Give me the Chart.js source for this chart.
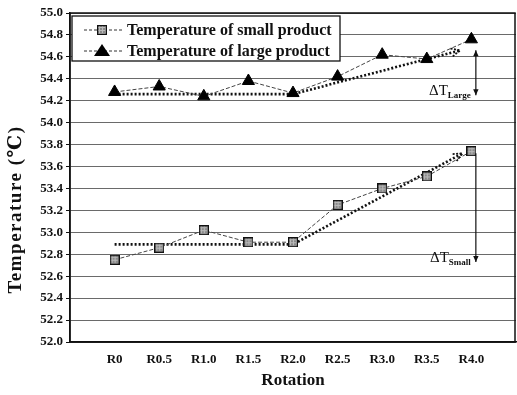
<!DOCTYPE html>
<html>
<head>
<meta charset="utf-8">
<script src="https://cdn.jsdelivr.net/npm/chart.js@4"></script>
<style>
  html, body { margin: 0; padding: 0; background: #fff; }
  #wrap { width: 517px; height: 395px; }
</style>
</head>
<body>
<div id="wrap"><canvas id="chart"></canvas></div>
<script>
// 数据
const rotations = ['R0', 'R0.5', 'R1.0', 'R1.5', 'R2.0', 'R2.5', 'R3.0', 'R3.5', 'R4.0'];
const smallTemp = [52.75, 52.86, 53.02, 52.91, 52.91, 53.25, 53.40, 53.51, 53.74];
const largeTemp = [54.28, 54.33, 54.24, 54.38, 54.27, 54.42, 54.62, 54.58, 54.76];
// 趋势线（点线）：[x 索引, 温度]
const smallTrend = [[0, 52.89], [4, 52.89], [7.8, 53.72]];
const largeTrend = [[0, 54.26], [4, 54.26], [7.75, 54.66]];
// ΔT 标注：[x 索引, 上端温度, 下端温度]
const deltaLarge = [8.1, 54.66, 54.25];
const deltaSmall = [8.1, 53.72, 52.73];
const yTitle = 'Temperature (\u2103)';

const SERIF = '"Liberation Serif", "DejaVu Serif", serif';

function toPoints(arr) {
  return arr.map((v, i) => ({ x: i, y: v }));
}
function trendPoints(arr) {
  return arr.map(p => ({ x: p[0], y: p[1] }));
}

// 灰色网格填充的方块标记
function makeSquare() {
  const c = document.createElement('canvas');
  c.width = 10; c.height = 10;
  const g = c.getContext('2d');
  g.fillStyle = '#8a8a8a';
  g.fillRect(0, 0, 10, 10);
  g.strokeStyle = '#bbb';
  g.lineWidth = 1;
  for (let i = 2; i < 10; i += 3) {
    g.beginPath(); g.moveTo(i + 0.5, 1); g.lineTo(i + 0.5, 9); g.stroke();
    g.beginPath(); g.moveTo(1, i + 0.5); g.lineTo(9, i + 0.5); g.stroke();
  }
  g.strokeStyle = '#111';
  g.lineWidth = 1.3;
  g.strokeRect(0.6, 0.6, 8.8, 8.8);
  return c;
}
const squareImg = makeSquare();

// 画箭头头部
function arrowHead(ctx, x, y, ang, size, open) {
  ctx.save();
  ctx.translate(x, y);
  ctx.rotate(ang);
  ctx.beginPath();
  ctx.moveTo(-size, -size * 0.45);
  ctx.lineTo(0, 0);
  ctx.lineTo(-size, size * 0.45);
  if (open) {
    ctx.stroke();
  } else {
    ctx.closePath();
    ctx.fill();
  }
  ctx.restore();
}

const decorPlugin = {
  id: 'decor',
  afterDraw(chart) {
    const ctx = chart.ctx;
    const xs = chart.scales.x, ys = chart.scales.y;
    const area = chart.chartArea;
    ctx.save();

    // 外框
    ctx.strokeStyle = '#111';
    ctx.lineWidth = 1.5;
    ctx.setLineDash([]);
    ctx.strokeRect(area.left, area.top, area.right - area.left - 1, area.bottom - area.top);

    // 纵轴标题（比图区中心略低）
    ctx.save();
    ctx.translate(16, (area.top + area.bottom) / 2 + 32);
    ctx.rotate(-Math.PI / 2);
    ctx.fillStyle = '#111';
    ctx.font = 'bold 19px ' + SERIF;
    ctx.letterSpacing = '1.5px';
    ctx.textAlign = 'center';
    ctx.textBaseline = 'middle';
    ctx.fillText(yTitle, 0, 0);
    ctx.restore();

    // 趋势线末端箭头
    ctx.lineWidth = 1.8;
    ctx.strokeStyle = '#111';
    [smallTrend, largeTrend].forEach(t => {
      const a = t[t.length - 2], b = t[t.length - 1];
      const x1 = xs.getPixelForValue(a[0]), y1 = ys.getPixelForValue(a[1]);
      const x2 = xs.getPixelForValue(b[0]), y2 = ys.getPixelForValue(b[1]);
      ctx.setLineDash([2, 1.5]);
      arrowHead(ctx, x2, y2, Math.atan2(y2 - y1, x2 - x1), 9, true);
    });
    ctx.setLineDash([]);

    // ΔT 双向箭头
    ctx.fillStyle = '#111';
    ctx.lineWidth = 1.2;
    [[deltaLarge, 'Large', 'both'], [deltaSmall, 'Small', 'down']].forEach(d => {
      const v = d[0];
      const x = xs.getPixelForValue(v[0]);
      const yt = ys.getPixelForValue(v[1]);
      const yb = ys.getPixelForValue(v[2]);
      ctx.beginPath(); ctx.moveTo(x, yt); ctx.lineTo(x, yb); ctx.stroke();
      arrowHead(ctx, x, yb, Math.PI / 2, 6, false);
      if (d[2] === 'both') arrowHead(ctx, x, yt, -Math.PI / 2, 6, false);
      // 文本 ΔT + 下标
      ctx.font = 'bold 9px ' + SERIF;
      const subW = ctx.measureText(d[1]).width;
      ctx.textAlign = 'left';
      ctx.textBaseline = 'alphabetic';
      const subX = x - 5 - subW;
      ctx.fillText(d[1], subX, yb + 3);
      ctx.font = '15px ' + SERIF;
      ctx.textAlign = 'right';
      ctx.fillText('\u0394T', subX, yb);
    });

    // 图例框
    const lx = area.left + 2, ly = area.top + 3, lw = 268, lh = 45;
    ctx.fillStyle = '#fff';
    ctx.fillRect(lx, ly, lw, lh);
    ctx.strokeStyle = '#111';
    ctx.lineWidth = 1.3;
    ctx.strokeRect(lx, ly, lw, lh);
    const items = [
      { label: chart.data.datasets[0].label, marker: 'sq' },
      { label: chart.data.datasets[1].label, marker: 'tri' }
    ];
    items.forEach((it, i) => {
      const cy = ly + 14 + i * 21;
      ctx.strokeStyle = '#333';
      ctx.lineWidth = 1;
      ctx.setLineDash([3, 2]);
      ctx.beginPath(); ctx.moveTo(lx + 12, cy); ctx.lineTo(lx + 50, cy); ctx.stroke();
      ctx.setLineDash([]);
      const mx = lx + 30;
      if (it.marker === 'sq') {
        ctx.drawImage(squareImg, mx - 5, cy - 5);
      } else {
        ctx.fillStyle = '#000';
        ctx.beginPath();
        ctx.moveTo(mx, cy - 7); ctx.lineTo(mx + 8, cy + 5); ctx.lineTo(mx - 8, cy + 5);
        ctx.closePath(); ctx.fill();
      }
      ctx.fillStyle = '#111';
      ctx.font = 'bold 16px ' + SERIF;
      ctx.textAlign = 'left';
      ctx.textBaseline = 'middle';
      ctx.fillText(it.label, lx + 55, cy + 1);
    });
    ctx.restore();
  }
};

new Chart(document.getElementById('chart'), {
  type: 'line',
  data: {
    datasets: [
      {
        label: 'Temperature of small product',
        data: toPoints(smallTemp),
        borderColor: '#444',
        borderWidth: 1,
        borderDash: [4, 2],
        pointStyle: squareImg,
        pointRadius: 5,
        tension: 0,
        order: 1
      },
      {
        label: 'Temperature of large product',
        data: toPoints(largeTemp),
        borderColor: '#444',
        borderWidth: 1,
        borderDash: [4, 2],
        pointStyle: 'triangle',
        pointRadius: 7,
        pointBackgroundColor: '#000',
        pointBorderColor: '#000',
        pointBorderWidth: 1,
        tension: 0,
        order: 1
      },
      {
        label: 'trend small',
        data: trendPoints(smallTrend),
        borderColor: '#111',
        borderWidth: 2.6,
        borderDash: [2, 2],
        pointRadius: 0,
        tension: 0,
        order: 2
      },
      {
        label: 'trend large',
        data: trendPoints(largeTrend),
        borderColor: '#111',
        borderWidth: 2.6,
        borderDash: [2, 2],
        pointRadius: 0,
        tension: 0,
        order: 2
      }
    ]
  },
  options: {
    responsive: true,
    maintainAspectRatio: false,
    animation: false,
    layout: { autoPadding: false, padding: { top: 13, right: 1, left: 0, bottom: 0 } },
    plugins: {
      legend: { display: false },
      tooltip: { enabled: false }
    },
    scales: {
      x: {
        type: 'linear',
        min: -1,
        max: 9,
        afterFit(scale) {
          scale.height = 53;
          scale.paddingLeft = 0;
          scale.paddingRight = 0;
        },
        ticks: {
          stepSize: 1,
          color: '#111',
          font: { family: SERIF, size: 13, weight: 'bold' },
          padding: 2,
          callback: v => rotations[v] || ''
        },
        grid: { display: false, drawTicks: true },
        border: { color: '#111', width: 1.5 },
        title: {
          display: true,
          text: 'Rotation',
          color: '#111',
          font: { family: SERIF, size: 17, weight: 'bold' },
          padding: { top: 8 }
        }
      },
      y: {
        min: 52.0,
        max: 55.0,
        afterFit(scale) {
          scale.width = 70;
          scale.paddingTop = 0;
          scale.paddingBottom = 0;
        },
        ticks: {
          stepSize: 0.2,
          color: '#111',
          font: { family: SERIF, size: 13, weight: 'bold' },
          padding: 3,
          callback: v => Number(v).toFixed(1)
        },
        grid: {
          color: '#6a6a6a',
          lineWidth: 1,
          tickLength: 4,
          tickColor: '#111'
        },
        border: { color: '#111', width: 1.5 },
        title: { display: false }
      }
    }
  },
  plugins: [decorPlugin]
});
</script>
</body>
</html>
